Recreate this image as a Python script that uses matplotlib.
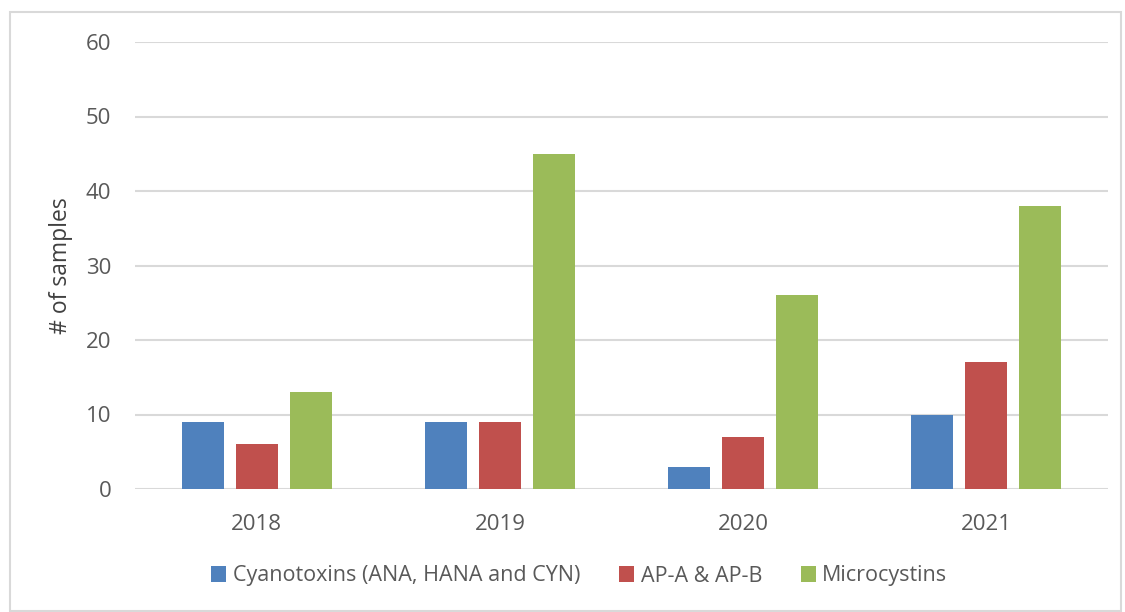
import matplotlib

matplotlib.use("Agg")
import matplotlib.pyplot as plt
import numpy as np
from matplotlib.patches import Rectangle

years = ["2018", "2019", "2020", "2021"]
series_names = ["Cyanotoxins (ANA, HANA and CYN)", "AP-A & AP-B", "Microcystins"]
cyanotoxins = [9, 9, 3, 10]
ap_ab = [6, 9, 7, 17]
microcystins = [13, 45, 26, 38]

colors = ["#4F81BD", "#C0504D", "#9BBB59"]
text_color = "#595959"
grid_color = "#D9D9D9"

plt.rcParams["font.family"] = ["Open Sans", "DejaVu Sans"]

W, H = 1125, 612
fig = plt.figure(figsize=(W / 100, H / 100), dpi=100)
ax = fig.add_axes([135 / W, 1 - 489 / H, (1108 - 135) / W, (489 - 42) / H])

x = np.arange(len(years))
width = 0.173
step = 0.222
for i, (vals, name) in enumerate(zip([cyanotoxins, ap_ab, microcystins], series_names)):
    ax.bar(x + (i - 1) * step, vals, width, color=colors[i], label=name, zorder=3)

ax.set_xlim(-0.5, len(years) - 0.5)
ax.set_ylim(0, 60)
ax.set_yticks(range(0, 61, 10))
ax.set_xticks(x)
ax.set_xticklabels(years)
ax.tick_params(axis="both", length=0, labelsize=16, colors=text_color)
ax.tick_params(axis="x", pad=18)
ax.tick_params(axis="y", pad=17)
ax.yaxis.grid(True, color=grid_color, linewidth=1.5, zorder=0)
for s in ax.spines.values():
    s.set_visible(False)
ax.set_ylabel("# of samples", fontsize=16.5, color="#404040", labelpad=9)

leg = fig.legend(loc="center", bbox_to_anchor=(0.515, 1 - 576 / H), ncol=3,
                 frameon=False, fontsize=15.5, handlelength=0.7, handleheight=0.7,
                 handletextpad=0.3, columnspacing=1.8)
for t in leg.get_texts():
    t.set_color(text_color)

# light outer frame around the chart area
fig.patches.append(Rectangle((10 / W, 1 - 611 / H), 1111 / W, 599 / H,
                             transform=fig.transFigure, fill=False,
                             edgecolor="#D9D9D9", linewidth=1.5))

fig.savefig("out.png", dpi=100)
